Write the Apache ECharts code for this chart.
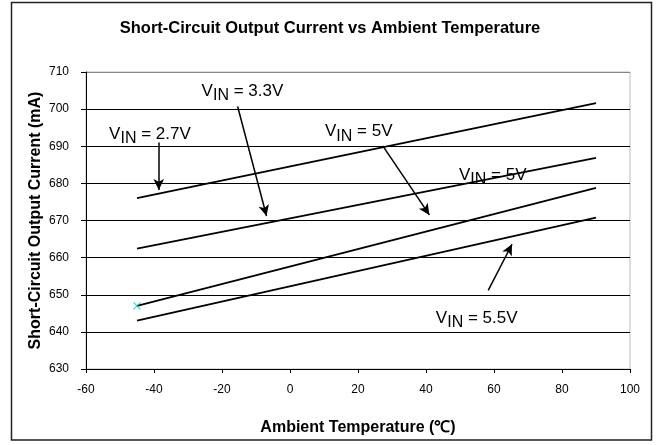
<!DOCTYPE html>
<html>
<head>
<meta charset="utf-8">
<script src="https://cdn.jsdelivr.net/npm/echarts@6/dist/echarts.min.js"></script>
<style>
html,body{margin:0;padding:0;background:#fff;}
#chart{width:660px;height:445px;}
</style>
</head>
<body>
<div id="chart"></div>
<script>
// ---- data ----
var temps = [-45, 90];
var vin27 = [676.0, 701.6];
var vin33 = [662.4, 686.9];
var vin50 = [647.0, 678.8];
var vin55 = [643.0, 670.8];
var markerPoint = [-45, 647.0];

var xTicks = [-60, -40, -20, 0, 20, 40, 60, 80, 100];
var yTicks = [630, 640, 650, 660, 670, 680, 690, 700, 710];

// annotation texts: [text value, x, y] (left edge, vertical middle)
var labelVals = ['2.7V', '3.3V', '5V', '5V', '5.5V'];
var labelX = [-53.2, -26.0, 10.3, 49.7, 42.9];
var labelY = [692.8, 704.2, 693.4, 681.7, 643.1];

// arrows: start/end points
var arrowX1 = [-38.6, -15.4, 27.3, 58.3];
var arrowY1 = [691.0, 700.7, 690.1, 651.2];
var arrowX2 = [-38.6, -6.9, 41.0, 65.3];
var arrowY2 = [678.2, 671.2, 671.5, 663.6];

function pairs(xs, ys) { return xs.map(function (x, i) { return [x, ys[i]]; }); }

var FONT = 'Liberation Sans, Arial, sans-serif';
var chart = echarts.init(document.getElementById('chart'), null, {renderer: 'canvas'});

var lineStyle = {color: '#000', width: 1.8};
function lineSeries(vals) {
  return {
    type: 'line', data: pairs(temps, vals), showSymbol: false, symbol: 'none',
    lineStyle: lineStyle, silent: true, animation: false, z: 3
  };
}

var markPoints = labelVals.map(function (t, i) {
  return {
    coord: [labelX[i], labelY[i]],
    symbol: 'circle', symbolSize: 0,
    label: {
      show: true, position: 'right', distance: 0,
      formatter: '{a|V}{s|IN}{a| = ' + t + '}',
      rich: {
        a: {fontFamily: FONT, fontSize: 17, lineHeight: 17, color: '#000', verticalAlign: 'top'},
        s: {fontFamily: FONT, fontSize: 16, lineHeight: 21, color: '#000', verticalAlign: 'bottom'}
      }
    }
  };
});

var markLines = arrowX1.map(function (x, i) {
  return [{coord: [x, arrowY1[i]]}, {coord: [arrowX2[i], arrowY2[i]]}];
});

var gridColors = yTicks.map(function (v) { return v === 710 ? '#888' : '#000'; });

chart.setOption({
  animation: false,
  backgroundColor: '#fff',
  title: {
    text: 'Short-Circuit Output Current vs Ambient Temperature',
    left: 'center', top: 15,
    textStyle: {fontFamily: FONT, fontSize: 16.5, fontWeight: 'bold', color: '#000'}
  },
  graphic: [{
    type: 'rect', silent: true, z: -1,
    shape: {x: 11.5, y: 2.5, width: 640, height: 437.5},
    style: {fill: 'none', stroke: '#222', lineWidth: 1.5}
  }],
  grid: {left: 86, right: 30, top: 72, bottom: 76, show: true, borderColor: '#bbb', borderWidth: 1, backgroundColor: 'transparent'},
  xAxis: {
    type: 'value', min: xTicks[0], max: xTicks[xTicks.length - 1], interval: 20,
    name: 'Ambient Temperature (\u2103)', nameLocation: 'middle', nameGap: 51, nameMoveOverlap: false,
    nameTextStyle: {fontFamily: FONT, fontSize: 16, fontWeight: 'bold', color: '#000'},
    axisLine: {show: true, onZero: false, lineStyle: {color: '#000', width: 1}},
    axisTick: {show: true, length: 4, inside: false, lineStyle: {color: '#000'}},
    axisLabel: {fontFamily: FONT, fontSize: 12, color: '#000', margin: 15},
    splitLine: {show: false}
  },
  yAxis: {
    type: 'value', min: yTicks[0], max: yTicks[yTicks.length - 1], interval: 10,
    name: 'Short-Circuit Output Current (mA)', nameLocation: 'middle', nameGap: 42, nameMoveOverlap: false,
    nameTextStyle: {fontFamily: FONT, fontSize: 16, fontWeight: 'bold', color: '#000'},
    axisLine: {show: true, onZero: false, lineStyle: {color: '#000', width: 1}},
    axisTick: {show: true, length: 5, inside: false, lineStyle: {color: '#000'}},
    axisLabel: {fontFamily: FONT, fontSize: 12, color: '#000', margin: 17},
    splitLine: {show: true, lineStyle: {color: gridColors, width: 1}}
  },
  series: [
    lineSeries(vin27),
    lineSeries(vin33),
    lineSeries(vin50),
    lineSeries(vin55),
    {
      type: 'scatter', data: [markerPoint], symbol: 'path://M0,0L10,10M10,0L0,10',
      symbolSize: 7, itemStyle: {color: 'none', borderColor: '#00cccc', borderWidth: 1.2}, z: 4, silent: true
    },
    {
      type: 'line', data: [], silent: true, z: 5,
      markPoint: {silent: true, data: markPoints, animation: false},
      markLine: {
        silent: true, animation: false, symbol: ['none', 'arrow'], symbolSize: [8, 11],
        label: {show: false},
        lineStyle: {color: '#000', width: 1.5, type: 'solid'},
        data: markLines
      }
    }
  ]
});
</script>
</body>
</html>
